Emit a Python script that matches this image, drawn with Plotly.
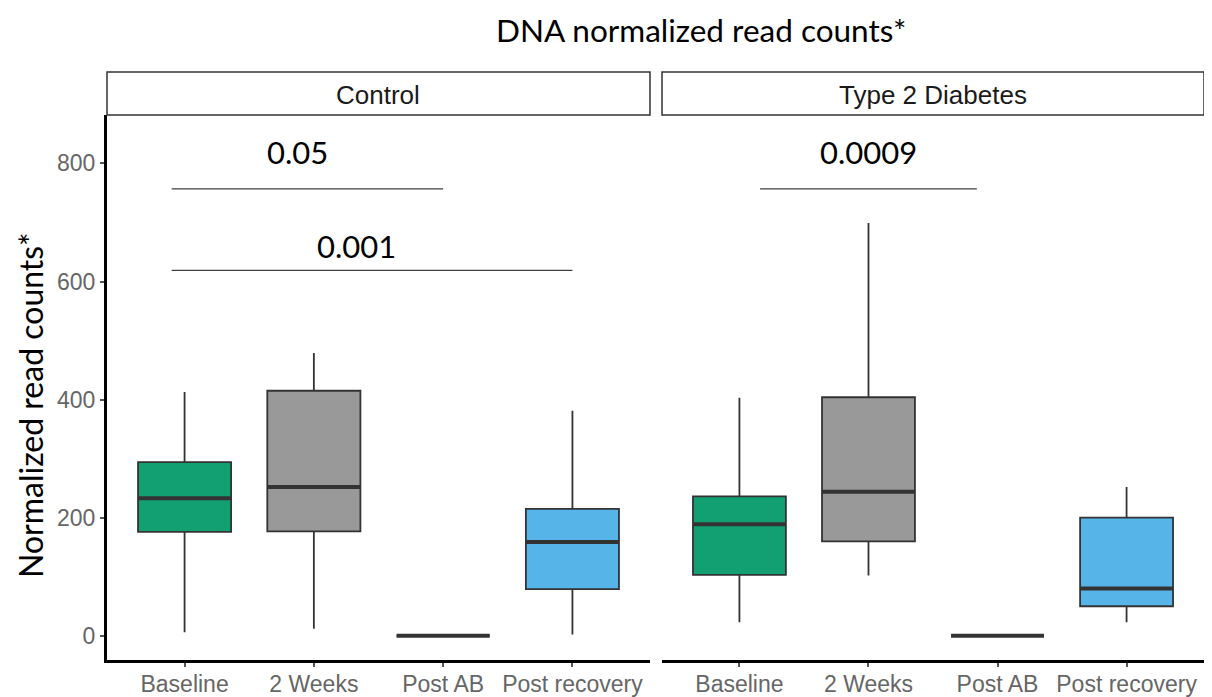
import plotly.graph_objects as go

# ---------------- data ----------------
categories = ["Baseline", "2 Weeks", "Post AB", "Post recovery"]
panels = ["Control", "Type 2 Diabetes"]
box_colors = ["#12A072", "#999999", "#E69F00", "#56B4E9"]

# Control
ctrl_lower = [6, 12, 0, 2]
ctrl_q1 = [176, 177, 0, 79]
ctrl_median = [233, 252, 0, 159]
ctrl_q3 = [294, 415, 0, 215]
ctrl_upper = [413, 479, 0, 381]

# Type 2 Diabetes
t2d_lower = [23, 102, 0, 23]
t2d_q1 = [103, 160, 0, 50]
t2d_median = [189, 244, 0, 80]
t2d_q3 = [236, 404, 0, 200]
t2d_upper = [403, 699, 0, 252]

# significance brackets
sig_panel = [0, 0, 1]
sig_x0 = [-0.1, -0.1, 0.16]
sig_x1 = [2.0, 3.0, 1.84]
sig_y = [757, 619, 757]
sig_labels = ["0.05", "0.001", "0.0009"]
sig_label_x = [0.87, 1.33, 1.0]
sig_label_y = [820, 660, 820]

y_ticks = [0, 200, 400, 600, 800]

# ---------------- layout geometry ----------------
OFF = 8  # page body margin
W, H = 1204, 689
px_x = lambda p: (p - OFF) / W
px_y = lambda p: 1 - (p - OFF) / H
x_domains = [[px_x(107), px_x(650)], [px_x(662), px_x(1204)]]
y_domain = [px_y(660), px_y(115)]
box_w = 0.72

fig = go.Figure()

data_sets = [
    (ctrl_lower, ctrl_q1, ctrl_median, ctrl_q3, ctrl_upper),
    (t2d_lower, t2d_q1, t2d_median, t2d_q3, t2d_upper),
]

for p, (lo, q1, med, q3, up) in enumerate(data_sets):
    xa = "x" if p == 0 else "x2"
    ya = "y" if p == 0 else "y2"
    for i, cat in enumerate(categories):
        fig.add_trace(go.Box(
            x=[i], q1=[q1[i]], median=[med[i]], q3=[q3[i]],
            lowerfence=[lo[i]], upperfence=[up[i]],
            width=box_w, whiskerwidth=0,
            fillcolor=box_colors[i],
            line=dict(color="#333333", width=1.8),
            boxpoints=False, showlegend=False, hoverinfo="skip",
            xaxis=xa, yaxis=ya, name=cat,
        ))
    # thick median lines (ggplot style)
    mx, my = [], []
    for i in range(len(categories)):
        mx += [i - box_w / 2, i + box_w / 2, None]
        my += [med[i], med[i], None]
    fig.add_trace(go.Scatter(
        x=mx, y=my, mode="lines",
        line=dict(color="#333333", width=4),
        showlegend=False, hoverinfo="skip", xaxis=xa, yaxis=ya,
    ))

shapes = []
annotations = []
for k in range(len(sig_labels)):
    xr = "x" if sig_panel[k] == 0 else "x2"
    yr = "y" if sig_panel[k] == 0 else "y2"
    shapes.append(dict(type="line", xref=xr, yref=yr,
                       x0=sig_x0[k], x1=sig_x1[k], y0=sig_y[k], y1=sig_y[k],
                       line=dict(color="#404040", width=1.2)))
    annotations.append(dict(xref=xr, yref=yr, x=sig_label_x[k], y=sig_label_y[k],
                            xanchor="center", yanchor="middle",
                            text=sig_labels[k], showarrow=False,
                            font=dict(family="Lato", size=31, color="black")))

# strip boxes
for p, name in enumerate(panels):
    shapes.append(dict(type="rect", xref="paper", yref="paper",
                       x0=x_domains[p][0], x1=x_domains[p][1],
                       y0=px_y(115), y1=px_y(72),
                       line=dict(color="#333333", width=1.5),
                       fillcolor="white", layer="above"))
    annotations.append(dict(xref="paper", yref="paper",
                            x=(x_domains[p][0] + x_domains[p][1]) / 2, y=px_y(95),
                            xanchor="center", yanchor="middle",
                            text=name, showarrow=False,
                            font=dict(family="Liberation Sans", size=26, color="#1a1a1a")))

annotations.append(dict(xref="paper", yref="paper", x=px_x(702), y=px_y(30),
                        xanchor="center", yanchor="middle",
                        text="DNA normalized read counts*", showarrow=False,
                        font=dict(family="Lato", size=31.5, color="black")))
annotations.append(dict(xref="paper", yref="paper", x=px_x(30), y=px_y(405),
                        xanchor="center", yanchor="middle",
                        text="Normalized read counts*", showarrow=False, textangle=-90,
                        font=dict(family="Lato", size=32, color="black")))

xcommon = dict(
    tickmode="array", tickvals=list(range(len(categories))), ticktext=categories,
    range=[-0.6, 3.6], showgrid=False, zeroline=False,
    showline=True, linecolor="black", linewidth=3,
    ticks="outside", ticklen=4, tickcolor="#555555", tickwidth=1.5,
    ticklabelstandoff=-3,
    tickfont=dict(family="Liberation Sans", size=23, color="#666666"),
    automargin=False, fixedrange=True,
)

fig.update_layout(
    width=W, height=H,
    margin=dict(l=0, r=0, t=0, b=0),
    paper_bgcolor="white", plot_bgcolor="white",
    showlegend=False,
    xaxis=dict(domain=x_domains[0], anchor="y", **xcommon),
    xaxis2=dict(domain=x_domains[1], anchor="y2", **xcommon),
    yaxis=dict(domain=y_domain, anchor="x", range=[-41, 882],
               tickvals=y_ticks, showgrid=False, zeroline=False,
               showline=True, linecolor="black", linewidth=3,
               ticks="outside", ticklen=4, tickcolor="#555555", tickwidth=1.5,
               tickfont=dict(family="Liberation Sans", size=23, color="#666666"),
               automargin=False),
    yaxis2=dict(domain=y_domain, anchor="x2", range=[-41, 882], matches="y",
                showgrid=False, zeroline=False, showline=False,
                showticklabels=False, ticks=""),
    shapes=shapes,
    annotations=annotations,
)

fig.write_html("out.html")
